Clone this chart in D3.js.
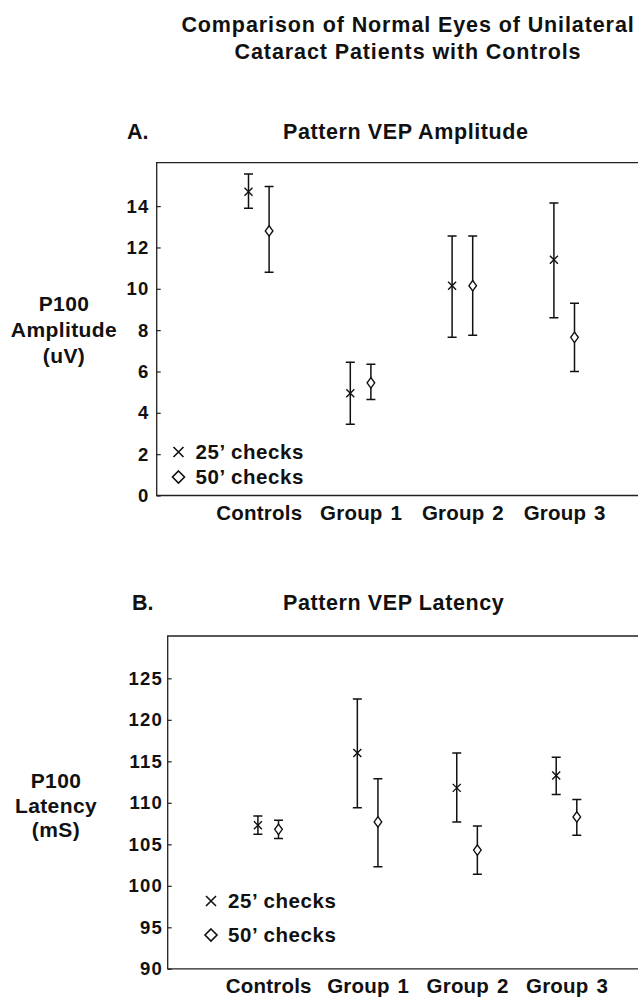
<!DOCTYPE html>
<html>
<head>
<meta charset="utf-8">
<script src="https://cdn.jsdelivr.net/npm/d3@7"></script>
<style>
  body { margin: 0; background: #fff; }
  svg text { font-family: "Liberation Sans", Arial, Helvetica, sans-serif; font-weight: bold; fill: #111; }
</style>
</head>
<body>
<script>
// groups along the x axis
const categories = ["Controls", "Group 1", "Group 2", "Group 3"];
const checkSizes = ["25’", "50’"];

// A. P100 amplitude (uV): mean and error bar ends
const ampMean25 = [14.7, 4.95, 10.15, 11.4];
const ampLow25 = [13.9, 3.45, 7.65, 8.6];
const ampHigh25 = [15.55, 6.45, 12.55, 14.15];
const ampMean50 = [12.8, 5.45, 10.15, 7.65];
const ampLow50 = [10.8, 4.65, 7.75, 6.0];
const ampHigh50 = [14.95, 6.35, 12.55, 9.3];
const ampTicks = [0, 2, 4, 6, 8, 10, 12, 14];

// B. P100 latency (mS)
const latMean25 = [107.3, 116.0, 111.8, 113.3];
const latLow25 = [106.2, 109.4, 107.7, 111.0];
const latHigh25 = [108.4, 122.5, 116.0, 115.5];
const latMean50 = [106.8, 107.7, 104.3, 108.3];
const latLow50 = [105.7, 102.3, 101.4, 106.1];
const latHigh50 = [107.9, 112.9, 107.2, 110.4];
const latTicks = [90, 95, 100, 105, 110, 115, 120, 125];

const W = 638, H = 997;
const svg = d3.select("body").append("svg")
  .attr("width", W).attr("height", H);

// main title
svg.append("text")
  .attr("text-anchor", "middle")
  .style("font-size", "21.5px").style("letter-spacing", "0.9px")
  .selectAll("tspan")
  .data(["Comparison of Normal Eyes of Unilateral", "Cataract Patients with Controls"])
  .join("tspan")
  .attr("x", 408)
  .attr("y", (d, i) => 32 + i * 27)
  .text(d => d);

// markers
function timesPath(r) {
  return `M${-r},${-r}L${r},${r}M${-r},${r}L${r},${-r}`;
}
function diamondPath(w, h) {
  return `M0,${-h}L${w},0L0,${h}L${-w},0Z`;
}

function panel(cfg) {
  const g = svg.append("g");
  const x = d3.scalePoint().domain(categories).range(cfg.xRange);
  const off = d3.scalePoint().domain(checkSizes).range([-10.3, 10.3]);
  const y = d3.scaleLinear().domain(cfg.yDomain).range(cfg.yRange);

  const left = cfg.left;
  const [yBottom, yTop] = cfg.yRange;

  // panel letter and title
  g.append("text").attr("x", cfg.letterX).attr("y", cfg.titleY)
    .style("font-size", "21.5px").text(cfg.letter);
  g.append("text").attr("x", 283).attr("y", cfg.titleY)
    .style("font-size", "21.5px").style("letter-spacing", "0.6px").text(cfg.title);

  // frame: left, top, bottom (runs off the right edge)
  g.append("path")
    .attr("d", `M${W},${yTop}H${left}V${yBottom}H${W}`)
    .attr("fill", "none").attr("stroke", "#222").attr("stroke-width", 1.3);

  // y axis
  const ya = g.append("g")
    .attr("transform", `translate(${left},0)`)
    .call(d3.axisLeft(y).tickValues(cfg.ticks).tickSize(-4).tickPadding(cfg.tickPad).tickFormat(d3.format("d")));
  ya.select(".domain").remove();
  ya.selectAll(".tick line").attr("stroke", "#222").attr("stroke-width", 1.2);
  ya.selectAll("text")
    .style("font-size", "18.5px").style("letter-spacing", "1.3px")
    .attr("font-family", null).attr("fill", "#111");

  // x axis labels
  const xa = g.append("g")
    .attr("transform", `translate(0,${yBottom})`)
    .call(d3.axisBottom(x).tickSize(0).tickPadding(cfg.xPad));
  xa.select(".domain").remove();
  xa.selectAll("text")
    .style("font-size", "20.5px").style("letter-spacing", "0.2px").style("word-spacing", "2px")
    .attr("font-family", null).attr("fill", "#111");

  // y axis title
  g.append("text")
    .attr("text-anchor", "middle")
    .style("font-size", "21px").style("letter-spacing", "0.4px")
    .selectAll("tspan")
    .data(cfg.yLabel)
    .join("tspan")
    .attr("x", cfg.yLabelX)
    .attr("y", (d, i) => cfg.yLabelY + i * cfg.yLabelGap)
    .text(d => d);

  // error bars and markers
  const rows = [];
  cfg.series.forEach(s => {
    categories.forEach((c, i) => {
      rows.push({ cat: c, size: s.size, mean: s.mean[i], lo: s.low[i], hi: s.high[i] });
    });
  });
  const cx = d => x(d.cat) + off(d.size);

  const bars = g.append("g").attr("stroke", "#111").attr("fill", "none");
  bars.selectAll("path.err")
    .data(rows)
    .join("path")
    .attr("class", "err")
    .attr("stroke-width", 1.5)
    .attr("d", d => `M${cx(d)},${y(d.lo)}V${y(d.hi)}M${cx(d) - 4.5},${y(d.hi)}H${cx(d) + 4.5}M${cx(d) - 4.5},${y(d.lo)}H${cx(d) + 4.5}`);

  bars.selectAll("path.mark")
    .data(rows)
    .join("path")
    .attr("class", "mark")
    .attr("transform", d => `translate(${cx(d)},${y(d.mean)})`)
    .attr("fill", d => d.size === checkSizes[1] ? "#fff" : "none")
    .attr("stroke-width", 1.4)
    .attr("d", d => d.size === checkSizes[0] ? timesPath(4) : diamondPath(3.8, 5.2));

  // legend
  const lg = g.append("g");
  checkSizes.forEach((s, i) => {
    const ly = cfg.legendY + i * cfg.legendGap;
    lg.append("path")
      .attr("transform", `translate(${cfg.legendX},${ly})`)
      .attr("fill", "none").attr("stroke", "#111").attr("stroke-width", 1.6)
      .attr("d", i === 0 ? timesPath(5) : diamondPath(6, 6));
    lg.append("text")
      .attr("x", cfg.legendX + 17).attr("y", ly + 7)
      .style("font-size", "20.5px").style("letter-spacing", "0.6px")
      .text(s + " checks");
  });
}

panel({
  letter: "A.", letterX: 127, title: "Pattern VEP Amplitude", titleY: 139,
  xRange: [258.8, 564.2], yDomain: [0, 16.1], yRange: [495.5, 162.7],
  left: 156.7, ticks: ampTicks, tickPad: 7, xPad: 10,
  yLabel: ["P100", "Amplitude", "(uV)"], yLabelX: 64, yLabelY: 311, yLabelGap: 26,
  legendX: 178.5, legendY: 452, legendGap: 25,
  series: [
    { size: checkSizes[0], mean: ampMean25, low: ampLow25, high: ampHigh25 },
    { size: checkSizes[1], mean: ampMean50, low: ampLow50, high: ampHigh50 }
  ]
});

panel({
  letter: "B.", letterX: 132, title: "Pattern VEP Latency", titleY: 610,
  xRange: [268.2, 566.5], yDomain: [90, 130.1], yRange: [968.8, 636],
  left: 167.7, ticks: latTicks, tickPad: 4.5, xPad: 9.5,
  yLabel: ["P100", "Latency", "(mS)"], yLabelX: 56, yLabelY: 788, yLabelGap: 24.5,
  legendX: 211, legendY: 901, legendGap: 34,
  series: [
    { size: checkSizes[0], mean: latMean25, low: latLow25, high: latHigh25 },
    { size: checkSizes[1], mean: latMean50, low: latLow50, high: latHigh50 }
  ]
});
</script>
</body>
</html>
